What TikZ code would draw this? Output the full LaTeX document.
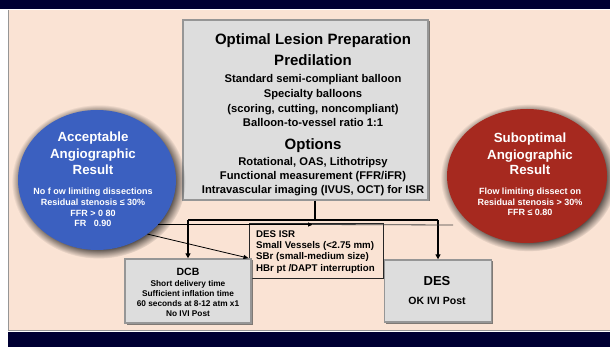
\documentclass[tikz,border=0pt]{standalone}
\usepackage{fontspec}
\setmainfont{Liberation Sans}
\usetikzlibrary{shadows,arrows.meta,calc,shapes.geometric}
\definecolor{navy}{RGB}{0,0,51}
\definecolor{peach}{RGB}{250,227,212}
\definecolor{ballblue}{RGB}{59,96,192}
\definecolor{ballred}{RGB}{166,41,31}
\definecolor{boxgray}{RGB}{221,221,221}
\definecolor{boxedge}{RGB}{150,150,150}
\tikzset{
  graybox/.style={rectangle, fill=boxgray, draw=boxedge, line width=1.4pt, inner sep=0,
     drop shadow={shadow xshift=1.5pt, shadow yshift=-1.5pt, opacity=0.7, fill=black!70}},
  ball/.style={ellipse, inner sep=0,
     circular drop shadow={shadow xshift=1.5pt, shadow yshift=-1.5pt, opacity=0.75, fill=black}},
  t/.style={font=\bfseries, inner sep=0, anchor=mid},
  wt/.style={t, text=white},
  mid/.style={t, font=\bfseries\fontsize{11.2}{12}\selectfont},
  main/.style={line width=1.6pt, black},
  mainarrow/.style={main, -{Triangle[length=5pt,width=5pt]}},
  thinline/.style={line width=0.8pt, black},
  thinarrow/.style={thinline, -{Triangle[length=5pt,width=4pt]}}
}
\begin{document}
\begin{tikzpicture}[x=1pt,y=-1pt]
\useasboundingbox (0,0) rectangle (610,347);
% background
\fill[white] (0,0) rectangle (610,347);
\fill[navy] (0,0) rectangle (610,9);
\fill[peach] (8,10) rectangle (610,330);
\draw[boxedge, line width=0.8pt] (8,10) -- (8,330) -- (610,330);
\fill[navy] (8,332) rectangle (610,347);

% central box
\node[graybox, minimum width=245pt, minimum height=180pt] (prep) at (305.5,110) {};
\node[t, font=\bfseries\fontsize{15}{15}\selectfont] (l1) at (313,42) {Optimal Lesion Preparation};
\node[t, font=\bfseries\fontsize{15}{15}\selectfont] (l2) at (313,63) {Predilation};
\node[mid] (l3) at (313,80) {Standard semi-compliant balloon};
\node[mid] (l4) at (313,95) {Specialty balloons};
\node[mid] (l5) at (313,110) {(scoring, cutting, noncompliant)};
\node[mid] (l6) at (313,124) {Balloon-to-vessel ratio 1:1};
\node[t, font=\bfseries\fontsize{15}{15}\selectfont] (l7) at (313,147) {Options};
\node[mid] (l8) at (313,163) {Rotational, OAS, Lithotripsy};
\node[mid] (l9) at (313,177) {Functional measurement (FFR/iFR)};
\node[mid] (l10) at (313,191) {Intravascular imaging (IVUS, OCT) for ISR};

% blue ball
\node[ball, fill=ballblue, minimum width=158pt, minimum height=140pt] (acc) at (97,180) {};
\node[wt, font=\bfseries\fontsize{13.3}{14}\selectfont] (a1) at (93,139) {Acceptable};
\node[wt, font=\bfseries\fontsize{13.3}{14}\selectfont] (a2) at (93,156) {Angiographic};
\node[wt, font=\bfseries\fontsize{13.3}{14}\selectfont] (a3) at (93,172) {Result};
\node[wt, font=\bfseries\fontsize{9}{10}\selectfont] (a4) at (93,192) {No f ow limiting dissections};
\node[wt, font=\bfseries\fontsize{9}{10}\selectfont] (a5) at (93,203) {Residual stenosis ≤ 30\%};
\node[wt, font=\bfseries\fontsize{9}{10}\selectfont] (a6) at (93,214) {FFR > 0 80};
\node[wt, font=\bfseries\fontsize{9}{10}\selectfont] (a7) at (93,224) {FR\ \ \ 0.90};

% red ball
\node[ball, fill=ballred, minimum width=160pt, minimum height=134pt] (sub) at (527,176) {};
\node[wt, font=\bfseries\fontsize{13.3}{14}\selectfont] (r1) at (530,140) {Suboptimal};
\node[wt, font=\bfseries\fontsize{13.3}{14}\selectfont] (r2) at (530,157) {Angiographic};
\node[wt, font=\bfseries\fontsize{13.3}{14}\selectfont] (r3) at (530,172) {Result};
\node[wt, font=\bfseries\fontsize{9}{10}\selectfont] (r4) at (530,192) {Flow limiting dissect on};
\node[wt, font=\bfseries\fontsize{9}{10}\selectfont] (r5) at (530,203) {Residual stenosis > 30\%};
\node[wt, font=\bfseries\fontsize{9}{10}\selectfont] (r6) at (530,213) {FFR ≤ 0.80};

% DES ISR box
\node[rectangle, draw=black!85, line width=1pt, minimum width=134pt, minimum height=54pt, inner sep=0] (isr) at (316,251) {};
\node[t, anchor=west, font=\bfseries\fontsize{9.7}{10}\selectfont] (i1) at (256,234) {DES ISR};
\node[t, anchor=west, font=\bfseries\fontsize{9.7}{10}\selectfont] (i2) at (256,246) {Small Vessels (<2.75 mm)};
\node[t, anchor=west, font=\bfseries\fontsize{9.7}{10}\selectfont] (i3) at (256,257) {SBr (small-medium size)};
\node[t, anchor=west, font=\bfseries\fontsize{9.7}{10}\selectfont] (i4) at (256,269) {HBr pt /DAPT interruption};

% DCB box
\node[graybox, minimum width=126pt, minimum height=64pt] (dcb) at (188,291) {};
\node[t, font=\bfseries\fontsize{10.5}{11}\selectfont] (d1) at (188,273) {DCB};
\node[t, font=\bfseries\fontsize{8.3}{9}\selectfont] (d2) at (188,284) {Short delivery time};
\node[t, font=\bfseries\fontsize{8.3}{9}\selectfont] (d3) at (188,294) {Sufficient inflation time};
\node[t, font=\bfseries\fontsize{8.3}{9}\selectfont] (d4) at (188,304) {60 seconds at 8-12 atm x1};
\node[t, font=\bfseries\fontsize{8.3}{9}\selectfont] (d5) at (188,314) {No IVI Post};

% DES box
\node[graybox, minimum width=107pt, minimum height=62pt] (des) at (438,291) {};
\node[t, font=\bfseries\fontsize{13}{14}\selectfont] (e1) at (437,283) {DES};
\node[t, font=\bfseries\fontsize{10.5}{11}\selectfont] (e2) at (437,302) {OK IVI Post};

% connectors
\coordinate (j) at (315,220);
\coordinate (m) at (313,225);
\coordinate (e) at (453,225);
\draw[main] (prep.south -| j) -- (j);
\draw[main] (dcb.north |- j) -- (des.north |- j);
\draw[mainarrow] (dcb.north |- j) -- (dcb.north);
\draw[mainarrow] (des.north |- j) -- (des.north);
\draw[thinarrow] (acc.-36) -- (acc.-36 -| m);
\draw[thinline, black!75] (acc.-36 -| m) -- (e);
\draw[thinarrow] (acc.-47) -- (isr.186);
\end{tikzpicture}
\end{document}
